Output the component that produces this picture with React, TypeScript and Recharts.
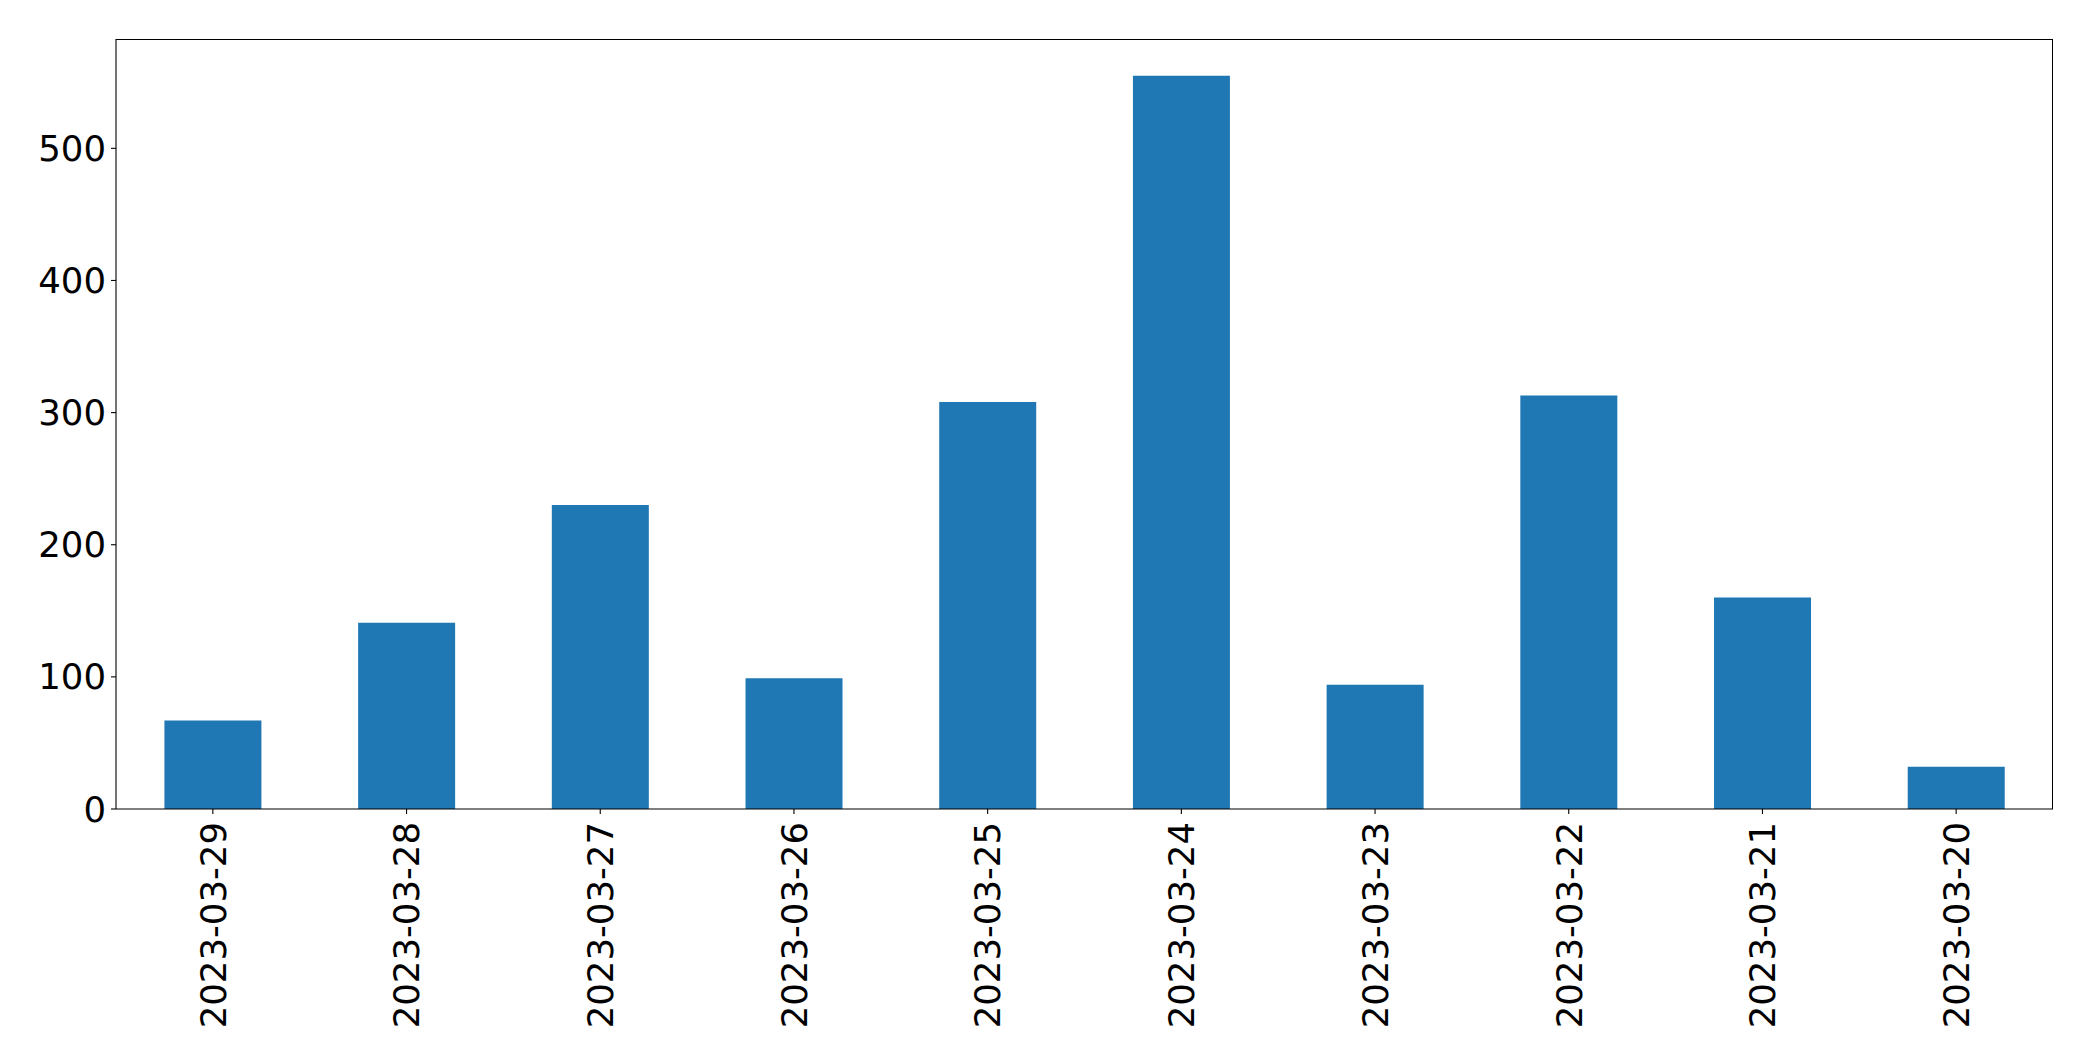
import { BarChart, Bar, XAxis, YAxis } from "recharts";

const dates = [
  "2023-03-29",
  "2023-03-28",
  "2023-03-27",
  "2023-03-26",
  "2023-03-25",
  "2023-03-24",
  "2023-03-23",
  "2023-03-22",
  "2023-03-21",
  "2023-03-20",
];
const counts = [67, 141, 230, 99, 308, 555, 94, 313, 160, 32];
const yTicks = [0, 100, 200, 300, 400, 500];

const data = dates.map((date, i) => ({ date, count: counts[i] }));

const FONT = "DejaVu Sans";
const FONT_SIZE = 35.5;

const W = 2093;
const H = 1061;
const M = { top: 39, right: 40, left: 116, bottom: 252 };

function DateTick({ x, y, payload }: { x?: number; y?: number; payload?: { value: string } }) {
  const ty = (y ?? 0) + 6;
  return (
    <text
      x={x}
      y={ty}
      transform={`rotate(-90, ${x}, ${ty})`}
      textAnchor="end"
      dy="0.36em"
      fill="#000"
      fontFamily={FONT}
      fontSize={FONT_SIZE}
    >
      {payload?.value}
    </text>
  );
}

export default function App() {
  return (
    <div style={{ position: "absolute", left: 0, top: 0, width: W, height: H, background: "#fff" }}>
      <BarChart
        width={W}
        height={H}
        data={data}
        margin={{ top: M.top, right: M.right, left: 0, bottom: 0 }}
        barCategoryGap="25%"
      >
        <XAxis
          dataKey="date"
          height={M.bottom}
          interval={0}
          tick={<DateTick />}
          tickSize={5}
          axisLine={{ stroke: "#000", strokeWidth: 1.1 }}
          tickLine={{ stroke: "#000", strokeWidth: 1.1 }}
        />
        <YAxis
          width={M.left}
          domain={[0, 582.75]}
          ticks={yTicks}
          tickSize={5}
          tickMargin={5}
          tick={{ fill: "#000", fontFamily: FONT, fontSize: FONT_SIZE }}
          axisLine={{ stroke: "#000", strokeWidth: 1.1 }}
          tickLine={{ stroke: "#000", strokeWidth: 1.1 }}
        />
        <Bar dataKey="count" fill="#1f77b4" isAnimationActive={false} />
      </BarChart>
      {/* frame: top and right spines */}
      <div
        style={{
          position: "absolute",
          left: M.left,
          top: M.top - 0.5,
          width: W - M.left - M.right,
          height: H - M.top - M.bottom,
          borderTop: "1.1px solid #000",
          borderRight: "1.1px solid #000",
          boxSizing: "border-box",
          pointerEvents: "none",
        }}
      />
    </div>
  );
}
